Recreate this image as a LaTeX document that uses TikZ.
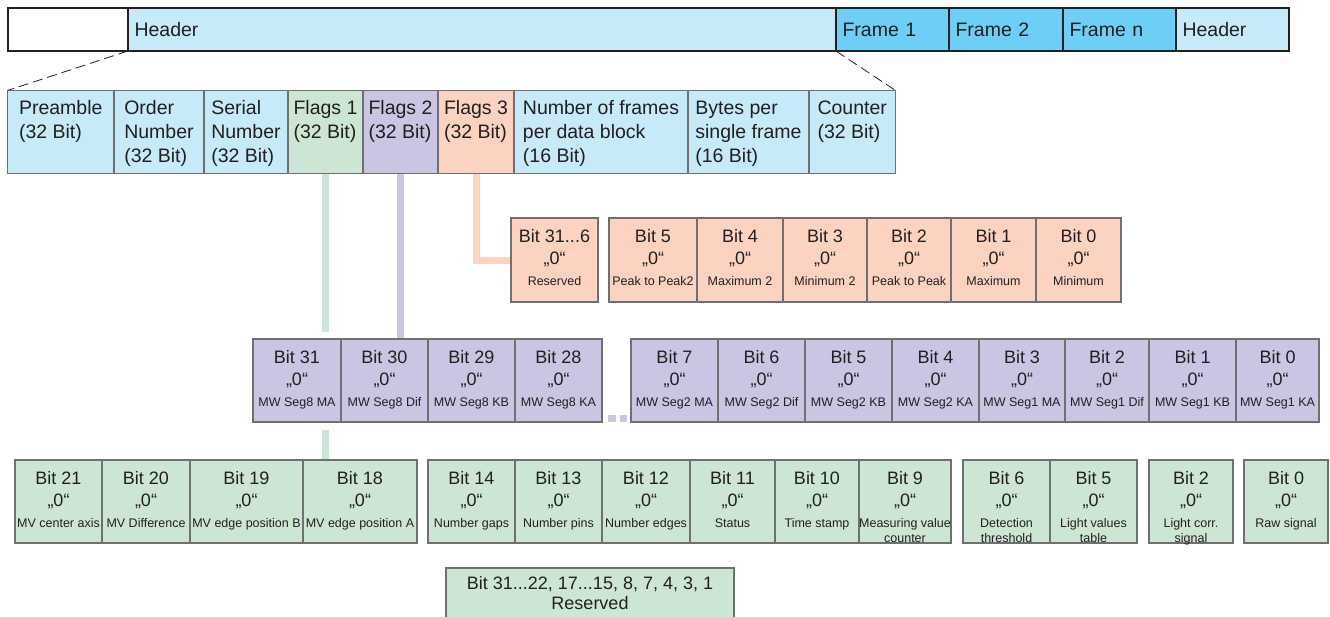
\documentclass[tikz,border=0pt]{standalone}
\usepackage{fontspec}
\setmainfont{Liberation Sans}
\usepackage{xcolor}
\usepackage{tikz}
\usetikzlibrary{positioning, backgrounds}

\definecolor{txt}{HTML}{231F20}
\definecolor{barline}{HTML}{231F20}
\definecolor{cellline}{HTML}{707072}
\definecolor{hdrblue}{HTML}{C7EAF9}
\definecolor{frmblue}{HTML}{6DCFF6}
\definecolor{flgreen}{HTML}{CDE6D4}
\definecolor{flpurple}{HTML}{C9C5E2}
\definecolor{flpeach}{HTML}{FCD3C1}

\newcommand{\descfont}{\fontsize{12.5}{15}\selectfont}
\newcommand{\fieldtext}[1]{\begin{tabular}[t]{@{}l@{}}#1\end{tabular}}
\newcommand{\bittext}[2]{\begin{tabular}[t]{@{}c@{}}#1\\„0“\\[-1.5pt]\descfont #2\end{tabular}}

\begin{document}
\begin{tikzpicture}[
        x=1pt, y=-1pt,
        bar/.style={rectangle, draw=barline, line width=2pt, fill=#1, minimum height=43pt, inner xsep=6.5pt, text height=14pt, text depth=0pt, align=left, outer sep=0pt, text=txt, font=\fontsize{19.5}{24}\selectfont},
        field/.style={rectangle, draw=cellline, line width=1.2pt, fill=#1, minimum height=83pt, inner xsep=0pt, inner ysep=10pt, text height=14pt, text depth=49pt, outer sep=0pt, text=txt, font=\fontsize{19.5}{24}\selectfont},
        cell/.style={rectangle, draw=cellline, line width=1.2pt, fill=#1, inner xsep=0pt, inner ysep=11pt, text height=13pt, text depth=48pt, outer sep=0pt, text=txt, font=\fontsize{18}{22.5}\selectfont},
        cw/.style={minimum width=#1},
        link/.style={line width=7pt, draw=#1},
        zoomline/.style={draw=barline, line width=0.8pt, dash pattern=on 10pt off 5pt},
        gapdot/.style={rectangle, fill=flpurple, minimum size=7.5pt, inner sep=0pt, outer sep=0pt}
    ]
        \useasboundingbox (0,0) rectangle (1330,616);

        % Data stream
        \node[bar=white, text width=107pt, anchor=north west] (blank) at (8,8) {};
        \node[bar=hdrblue, text width=695pt, right=0pt of blank] (hdr) {Header};
        \node[bar=frmblue, text width=100pt, right=0pt of hdr] (fr1) {Frame 1};
        \node[bar=frmblue, text width=101pt, right=0pt of fr1] (fr2) {Frame 2};
        \node[bar=frmblue, text width=100pt, right=0pt of fr2] (frn) {Frame n};
        \node[bar=hdrblue, text width=100pt, right=0pt of frn] (hdr2) {Header};

        % Header fields
        \node[field=hdrblue, minimum width=106.5pt, anchor=north west] (pre) at (7.5,90.5) {\fieldtext{Preamble\\(32 Bit)}};
        \node[field=hdrblue, minimum width=90pt, right=0pt of pre] (ord) {\fieldtext{Order\\Number\\(32 Bit)}};
        \node[field=hdrblue, minimum width=84pt, right=0pt of ord] (ser) {\fieldtext{Serial\\Number\\(32 Bit)}};
        \node[field=flgreen, minimum width=75pt, right=0pt of ser] (flA) {\fieldtext{Flags 1\\(32 Bit)}};
        \node[field=flpurple, minimum width=75pt, right=0pt of flA] (flB) {\fieldtext{Flags 2\\(32 Bit)}};
        \node[field=flpeach, minimum width=76pt, right=0pt of flB] (flC) {\fieldtext{Flags 3\\(32 Bit)}};
        \node[field=hdrblue, minimum width=174pt, right=0pt of flC] (nfr) {\fieldtext{Number of frames\\per data block\\(16 Bit)}};
        \node[field=hdrblue, minimum width=121pt, right=0pt of nfr] (bpf) {\fieldtext{Bytes per\\single frame\\(16 Bit)}};
        \node[field=hdrblue, minimum width=86.5pt, right=0pt of bpf] (cnt) {\fieldtext{Counter\\(32 Bit)}};

        \draw[zoomline] (blank.south east) -- (pre.north west);
        \draw[zoomline] (hdr.south east) -- (cnt.north east);

        % Flags 3
        \node[cell=flpeach, cw=87pt, text depth=49pt, anchor=north west] (c31) at (511,218) {\bittext{Bit 31...6}{Reserved}};
        \node[cell=flpeach, cw=88pt, text depth=49pt, right=11pt of c31] (c5) {\bittext{Bit 5}{Peak to Peak2}};
        \node[cell=flpeach, cw=86pt, text depth=49pt, right=0pt of c5] (c4) {\bittext{Bit 4}{Maximum 2}};
        \node[cell=flpeach, cw=84pt, text depth=49pt, right=0pt of c4] (c3) {\bittext{Bit 3}{Minimum 2}};
        \node[cell=flpeach, cw=84pt, text depth=49pt, right=0pt of c3] (c2) {\bittext{Bit 2}{Peak to Peak}};
        \node[cell=flpeach, cw=85pt, text depth=49pt, right=0pt of c2] (c1) {\bittext{Bit 1}{Maximum}};
        \node[cell=flpeach, cw=85pt, text depth=49pt, right=0pt of c1] (c0) {\bittext{Bit 0}{Minimum}};

        % Flags 2
        \node[cell=flpurple, cw=88pt, anchor=north west] (b31) at (253,339) {\bittext{Bit 31}{MW Seg8 MA}};
        \node[cell=flpurple, cw=87pt, right=0pt of b31] (b30) {\bittext{Bit 30}{MW Seg8 Dif}};
        \node[cell=flpurple, cw=87pt, right=0pt of b30] (b29) {\bittext{Bit 29}{MW Seg8 KB}};
        \node[cell=flpurple, cw=87pt, right=0pt of b29] (b28) {\bittext{Bit 28}{MW Seg8 KA}};
        \node[gapdot, anchor=south west] (dotA) at ([xshift=6pt]b28.south east) {};
        \node[gapdot, right=4pt of dotA] (dotB) {};
        \node[cell=flpurple, cw=87pt, right=29pt of b28] (b7) {\bittext{Bit 7}{MW Seg2 MA}};
        \node[cell=flpurple, cw=87pt, right=0pt of b7] (b6) {\bittext{Bit 6}{MW Seg2 Dif}};
        \node[cell=flpurple, cw=87pt, right=0pt of b6] (b5) {\bittext{Bit 5}{MW Seg2 KB}};
        \node[cell=flpurple, cw=87pt, right=0pt of b5] (b4) {\bittext{Bit 4}{MW Seg2 KA}};
        \node[cell=flpurple, cw=86pt, right=0pt of b4] (b3) {\bittext{Bit 3}{MW Seg1 MA}};
        \node[cell=flpurple, cw=84pt, right=0pt of b3] (b2) {\bittext{Bit 2}{MW Seg1 Dif}};
        \node[cell=flpurple, cw=87pt, right=0pt of b2] (b1) {\bittext{Bit 1}{MW Seg1 KB}};
        \node[cell=flpurple, cw=83pt, right=0pt of b1] (b0) {\bittext{Bit 0}{MW Seg1 KA}};

        % Flags 1
        \node[cell=flgreen, cw=87pt, anchor=north west] (a21) at (15,460) {\bittext{Bit 21}{MV center axis}};
        \node[cell=flgreen, cw=88pt, right=0pt of a21] (a20) {\bittext{Bit 20}{MV Difference}};
        \node[cell=flgreen, cw=113pt, right=0pt of a20] (a19) {\bittext{Bit 19}{MV edge position B}};
        \node[cell=flgreen, cw=114pt, right=0pt of a19] (a18) {\bittext{Bit 18}{MV edge position A}};
        \node[cell=flgreen, cw=87pt, right=11pt of a18] (a14) {\bittext{Bit 14}{Number gaps}};
        \node[cell=flgreen, cw=87pt, right=0pt of a14] (a13) {\bittext{Bit 13}{Number pins}};
        \node[cell=flgreen, cw=88pt, right=0pt of a13] (a12) {\bittext{Bit 12}{Number edges}};
        \node[cell=flgreen, cw=85pt, right=0pt of a12] (a11) {\bittext{Bit 11}{Status}};
        \node[cell=flgreen, cw=84pt, right=0pt of a11] (a10) {\bittext{Bit 10}{Time stamp}};
        \node[cell=flgreen, cw=92pt, right=0pt of a10] (a9) {\bittext{Bit 9}{Measuring value\\[-7.5pt]\descfont counter}};
        \node[cell=flgreen, cw=87pt, right=12pt of a9] (a6) {\bittext{Bit 6}{Detection\\[-7.5pt]\descfont threshold}};
        \node[cell=flgreen, cw=87pt, right=0pt of a6] (a5) {\bittext{Bit 5}{Light values\\[-7.5pt]\descfont table}};
        \node[cell=flgreen, cw=84pt, right=12pt of a5] (a2) {\bittext{Bit 2}{Light corr.\\[-7.5pt]\descfont signal}};
        \node[cell=flgreen, cw=84pt, right=11pt of a2] (a0) {\bittext{Bit 0}{Raw signal}};

        \node[cell=flgreen, cw=288pt, inner ysep=8.5pt, text depth=38pt, font=\fontsize{18}{20}\selectfont, anchor=north west] (rsv) at (446,568) {\begin{tabular}[t]{@{}c@{}}Bit 31...22, 17...15, 8, 7, 4, 3, 1\\Reserved\end{tabular}};

        % Flag links
        \coordinate (gA) at ([yshift=7pt]flA.south |- b31.north);
        \coordinate (gB) at ([yshift=-8pt]flA.south |- b31.south);
        \begin{scope}[on background layer]
            \draw[link=flpeach] (flC.south) |- (c31.west);
            \draw[link=flpurple] (flB.south) -- (flB.south |- b30.north);
            \draw[link=flgreen] (flA.south) -- (gA);
            \draw[link=flgreen] (gB) -- (flA.south |- a18.north);
        \end{scope}
    \end{tikzpicture}
\end{document}
